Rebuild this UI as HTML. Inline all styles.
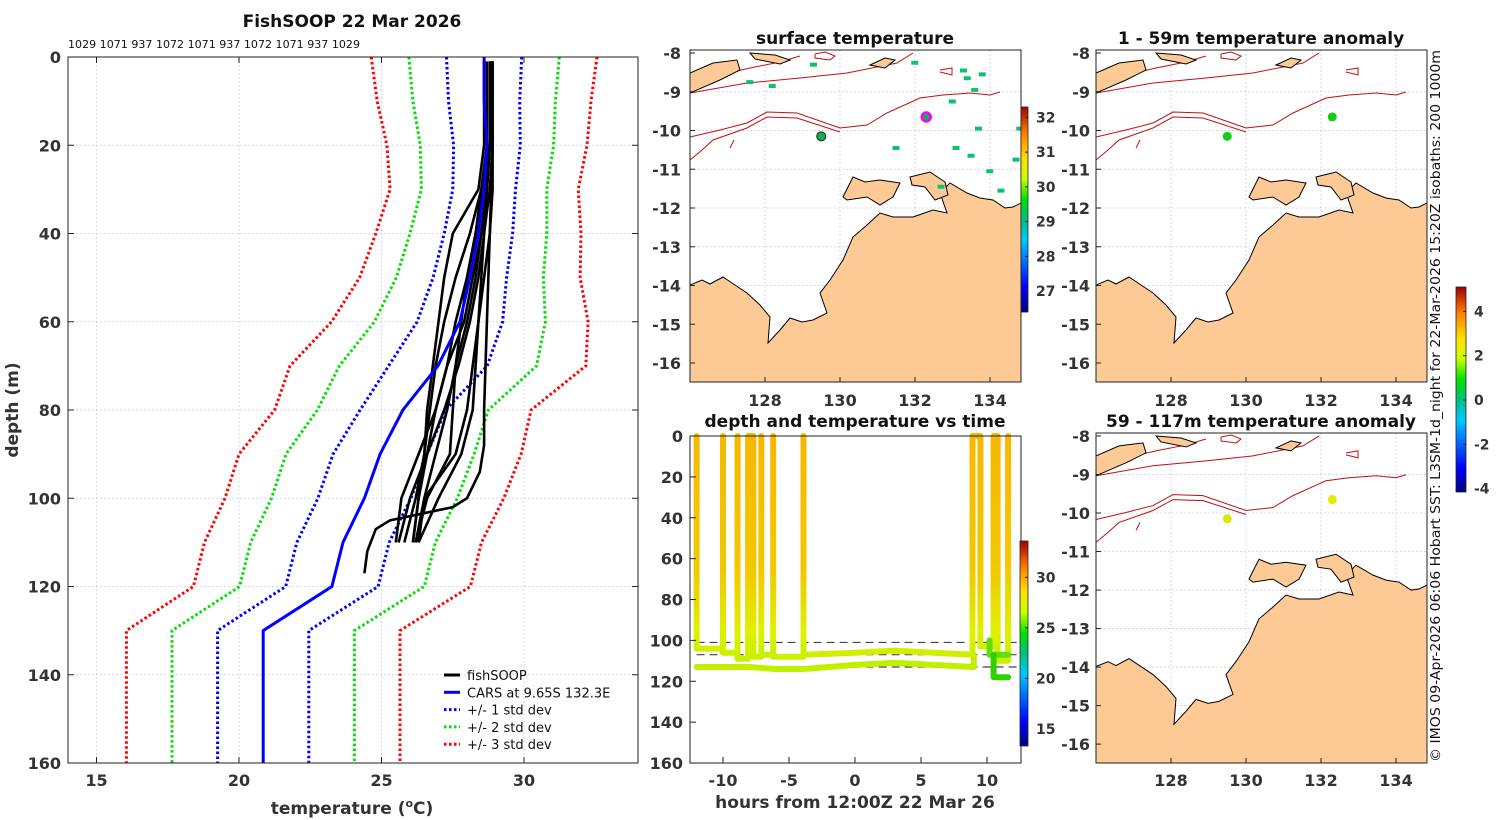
<!DOCTYPE html>
<html><head><meta charset="utf-8"><style>
html,body{margin:0;padding:0;background:#fff;}
svg{display:block;font-family:"DejaVu Sans","Liberation Sans",sans-serif;}
.b{font-weight:bold;}
</style></head><body>
<svg id="fig" width="1500" height="820" viewBox="0 0 1500 820" xmlns="http://www.w3.org/2000/svg">
<defs>
<linearGradient id="jet" x1="0" y1="1" x2="0" y2="0">
<stop offset="0" stop-color="#000080"/><stop offset="0.12" stop-color="#0000ff"/><stop offset="0.35" stop-color="#00c8ff"/><stop offset="0.45" stop-color="#00c080"/><stop offset="0.55" stop-color="#00e000"/><stop offset="0.65" stop-color="#c8ff00"/><stop offset="0.75" stop-color="#ffe000"/><stop offset="0.87" stop-color="#ff8000"/><stop offset="1" stop-color="#a00000"/>
</linearGradient>
<linearGradient id="diveg" gradientUnits="userSpaceOnUse" x1="0" y1="436" x2="0" y2="680">
<stop offset="0" stop-color="#f7b800"/><stop offset="0.55" stop-color="#f2c800"/><stop offset="0.8" stop-color="#dff000"/><stop offset="1" stop-color="#b8f000"/>
</linearGradient>
<symbol id="mapbase" viewBox="0 0 331 332" preserveAspectRatio="none">
<g stroke="#c8cce8" stroke-width="0.8" stroke-dasharray="2,2">
<line x1="75" y1="0" x2="75" y2="332"/><line x1="150" y1="0" x2="150" y2="332"/><line x1="225" y1="0" x2="225" y2="332"/><line x1="300" y1="0" x2="300" y2="332"/>
<line x1="0" y1="41.75" x2="331" y2="41.75"/><line x1="0" y1="80.5" x2="331" y2="80.5"/><line x1="0" y1="119.25" x2="331" y2="119.25"/><line x1="0" y1="158" x2="331" y2="158"/><line x1="0" y1="196.75" x2="331" y2="196.75"/><line x1="0" y1="235.5" x2="331" y2="235.5"/><line x1="0" y1="274.25" x2="331" y2="274.25"/><line x1="0" y1="313" x2="331" y2="313"/>
</g>
<g fill="none" stroke="#c01010" stroke-width="1">
<polyline points="0,87 30,80 57,73 77,62 107,63 150,78 177,75 197,63 230,48 253,45 280,43 300,45 310,42"/>
<polyline points="0,110 12,100 23,90 40,84 57,78 77,67 107,68 150,82"/>
<polyline points="0,43 57,33 110,28 157,23 207,13 223,3"/>
<polyline points="0,34 30,25 60,18 90,12 110,6"/>
<polyline points="125,4 135,2 145,6 140,10 125,8 125,4"/>
<polyline points="250,20 262,18 262,25 250,22"/>
<polyline points="44,90 40,98"/>
</g>
<g fill="#fdca95" stroke="#000" stroke-width="1">
<polygon points="0,235 12,230 20,234 33,227 45,235 57,243 70,255 80,267 78,293 90,280 100,268 112,272 123,270 137,263 130,243 140,230 153,210 163,187 177,175 190,163 203,167 223,167 243,160 257,163 250,143 260,133 277,143 290,148 303,150 315,158 323,157 331,153 331,332 0,332"/>
<polygon points="153,147 163,127 175,132 190,130 210,133 203,147 190,155 177,147 157,150"/>
<polygon points="220,127 240,122 255,132 258,145 245,150 235,137 222,135"/>
<polygon points="0,23 23,13 47,10 50,20 30,30 0,43"/>
<polygon points="60,3 85,5 100,10 90,14 65,9"/>
<polygon points="180,15 195,8 205,10 195,18"/>
</g>
</symbol>
</defs>
<g id="left"></g>
<g id="tdpanel"></g>
<g id="maps"></g>
</svg>
<script>
// ---------- profile data ----------
const carsDepths = [0,10,20,30,40,50,60,70,80,90,100,110,120,130,160];
const carsMean   = [28.6,28.6,28.7,28.6,28.4,28.1,27.75,26.98,25.75,24.95,24.4,23.65,23.26,20.85,20.85];
const carsStd    = [1.32,1.25,1.17,1.1,1.2,1.29,1.5,1.73,1.5,1.65,1.63,1.62,1.62,1.6,1.6];
const profDepths = [1,20,30,40,50,60,70,80,90,100,110];
const prof1 = [28.8,28.8,28.7,28.5,28.3,28.0,27.6,27.3,26.9,26.5,26.2];
const prof2 = [28.9,28.9,28.9,28.8,28.6,28.4,28.3,28.2,27.8,27.0,26.3];
const prof3 = [28.6,28.6,28.4,27.5,27.2,27.0,26.8,26.6,26.5,26.3,26.1];
const prof4 = [28.9,28.9,28.8,28.6,28.4,28.1,27.7,27.2,26.6,26.0,25.6];
const prof5 = [28.9,28.8,28.6,28.3,28.0,27.6,27.3,26.9,26.3,25.7,25.5];
const prof6 = [28.8,28.8,28.7,28.5,28.2,27.9,27.3,26.9,26.6,26.3,26.1];
const prof8 = [28.7,28.7,28.5,28.3,28.0,27.8,27.6,27.5,27.4,26.6,26.2];
const prof9 = [28.9,28.8,28.5,28.1,27.6,27.2,26.9,26.7,26.5,26.2,25.8];
const prof10 = [28.8,28.8,28.7,28.6,28.5,28.4,28.2,28.0,27.6,26.5,26.3];
const prof7Depths = [1,20,40,60,80,88,94,100,102,105,107,112,117];
const prof7 = [28.9,28.9,28.8,28.7,28.6,28.6,28.45,28.0,27.5,25.3,24.8,24.5,24.4];
const tempTicks = [15,20,25,30];
const depthTicks = [0,20,40,60,80,100,120,140,160];
const topNumbers = "1029 1071 937 1072 1071 937 1072 1071 937 1029";

// ---------- depth-time data ----------
const diveTimes  = [-12,-12,-10,-10,-10,-8.9,-8.9,-8.9,-8.1,-8.1,-7.7,-7.7,-7.1,-7.1,-7.1,-6.2,-6.2,-6.2,-3.9,-3.9,-3.9,0,3,6,8.9,8.9,9.5,9.5,10.5,10.5,10.8,10.8,11.6,11.6];
const diveDepths = [0,104,104,0,106,106,0,109,109,0,0,108,108,0,107,107,0,108,108,0,107,106,105,106,107,0,0,103,103,0,0,110,110,0];
const bottomTimes  = [-12,-8,-6,-3.9,0,3,6,9,9];
const bottomDepths = [113,113,114,114,112,111,112,113,107];
const greenTimes  = [10.2,10.2,11.6];
const greenDepths = [100,107,107];
const green2Times = [10.5,10.5,11.6];
const green2Depths= [107,118,118];
const dashDepths = [101,107,113];
const hourTicks = [-10,-5,0,5,10];

// ---------- map data ----------
const lonTicks = [128,130,132,134];
const latTicks = [-8,-9,-10,-11,-12,-13,-14,-15,-16];
const sstTicks = [27,28,29,30,31,32];
const tdTicks = [15,20,25,30];
const anomTicks = [-4,-2,0,2,4];
const ptLon = [129.5,132.3];
const ptLat = [-10.15,-9.65];

const NS="http://www.w3.org/2000/svg";
function el(tag,attrs,parent,text){const e=document.createElementNS(NS,tag);for(const k in attrs)e.setAttribute(k,attrs[k]);if(text!==undefined)e.textContent=text;parent.appendChild(e);return e;}

// ===== left profile panel =====
const L=document.getElementById('left');
const px=t=>68+(t-14)*28.5, py=d=>57+d*4.4125;
for(const t of tempTicks){const g=el('line',{x1:px(t),y1:57,x2:px(t),y2:763,stroke:'#d0cce0','stroke-width':0.8,'stroke-dasharray':'2,2'},L);
}
for(const d of depthTicks){const g=el('line',{x1:68,y1:py(d),x2:638,y2:py(d),stroke:'#d0cce0','stroke-width':0.8,'stroke-dasharray':'2,2'},L);
}
const stdCols=['#0000ff','#00e000','#ff0000'];
[3,2,1].forEach(k=>{[-1,1].forEach(s=>{
 const pts=carsDepths.map((d,i)=>px(carsMean[i]+s*k*carsStd[i]).toFixed(1)+','+py(d).toFixed(1)).join(' ');
 const p=el('polyline',{points:pts,fill:'none',stroke:stdCols[k-1],'stroke-width':3,'stroke-dasharray':'2.5,2.5'},L);
 });});
const profs=[prof1,prof2,prof3,prof4,prof5,prof6,prof8,prof9,prof10];
profs.forEach(pr=>{const pts=pr.map((t,i)=>px(t).toFixed(1)+','+py(profDepths[i]).toFixed(1)).join(' ');
 const p=el('polyline',{points:pts,fill:'none',stroke:'#000','stroke-width':2.6,'stroke-linejoin':'round'},L);
 });
{const pts=prof7.map((t,i)=>px(t).toFixed(1)+','+py(prof7Depths[i]).toFixed(1)).join(' ');
 const p=el('polyline',{points:pts,fill:'none',stroke:'#000','stroke-width':2.6},L);
 }
{const pts=carsDepths.map((d,i)=>px(carsMean[i]).toFixed(1)+','+py(d).toFixed(1)).join(' ');
 const p=el('polyline',{points:pts,fill:'none',stroke:'#0000ff','stroke-width':3},L);
 }
{const r=el('rect',{x:68,y:57,width:570,height:706,fill:'none',stroke:'#222','stroke-width':1},L);
 }
for(const t of tempTicks){el('line',{x1:px(t),y1:763,x2:px(t),y2:757,stroke:'#222'},L);el('line',{x1:px(t),y1:57,x2:px(t),y2:63,stroke:'#222'},L);
 const tx=el('text',{x:px(t),y:786,'text-anchor':'middle','font-size':16,class:'b',fill:'#333'},L,String(t));
 }
for(const d of depthTicks){el('line',{x1:68,y1:py(d),x2:74,y2:py(d),stroke:'#222'},L);el('line',{x1:638,y1:py(d),x2:632,y2:py(d),stroke:'#222'},L);
 const tx=el('text',{x:61,y:py(d)+6,'text-anchor':'end','font-size':16,class:'b',fill:'#333'},L,String(d));
 }
{const t=el('text',{x:352,y:27,'text-anchor':'middle','font-size':17,class:'b',fill:'#111'},L,'FishSOOP 22 Mar 2026');}
{const t=el('text',{x:68,y:48,'font-size':10.5,fill:'#111',textLength:292,lengthAdjust:'spacingAndGlyphs'},L,topNumbers);}
{const t=el('text',{x:352,y:814,'text-anchor':'middle','font-size':17,class:'b',fill:'#333'},L);
 t.innerHTML='temperature (<tspan dy="-7" font-size="11">o</tspan><tspan dy="7">C)</tspan>';}
{const t=el('text',{x:18,y:410,'text-anchor':'middle','font-size':17,class:'b',fill:'#333',transform:'rotate(-90 18 410)'},L,'depth (m)');}
const legItems=[['fishSOOP','#000',''],['CARS at 9.65S 132.3E','#0000ff',''],['+/- 1 std dev','#0000ff','2.5,2.5'],['+/- 2 std dev','#00e000','2.5,2.5'],['+/- 3 std dev','#ff0000','2.5,2.5']];
legItems.forEach((it,i)=>{const y=675+i*17.3;
 const g=el('g',{},L);
 const a={x1:444,y1:y,x2:460,y2:y,stroke:it[1],'stroke-width':3};if(it[2])a['stroke-dasharray']=it[2];el('line',a,g);
 el('text',{x:467,y:y+5,'font-size':13,fill:'#111'},g,it[0]);});

// ===== depth-time panel =====
const T=document.getElementById('tdpanel');
const hx=h=>855+h*13.2, dy=d=>436+d*2.044;
for(const d of dashDepths){const l=el('line',{x1:hx(-12),y1:dy(d),x2:hx(12.4),y2:dy(d),stroke:'#444','stroke-width':1.2,'stroke-dasharray':'8,5'},T);
 }
function tdLine(ts,ds,stroke,name){const pts=ts.map((t,i)=>hx(t).toFixed(1)+','+dy(ds[i]).toFixed(1)).join(' ');
 const p=el('polyline',{points:pts,fill:'none',stroke:stroke,'stroke-width':6,'stroke-linejoin':'round','stroke-linecap':'round'},T);
 }
tdLine(bottomTimes,bottomDepths,'#c0f000','bottom-track');
tdLine(diveTimes,diveDepths,'url(#diveg)','dive-track');
tdLine(greenTimes,greenDepths,'#60e000','dive-track-green');
tdLine(green2Times,green2Depths,'#30d000','dive-track-green');
{const r=el('rect',{x:690,y:436,width:331,height:327,fill:'none',stroke:'#222'},T);}
for(const h of hourTicks){el('line',{x1:hx(h),y1:763,x2:hx(h),y2:757,stroke:'#222'},T);
 const t=el('text',{x:hx(h),y:786,'text-anchor':'middle','font-size':16,class:'b',fill:'#333'},T,String(h));}
for(const d of depthTicks){el('line',{x1:690,y1:dy(d),x2:696,y2:dy(d),stroke:'#222'},T);
 const t=el('text',{x:683,y:dy(d)+6,'text-anchor':'end','font-size':16,class:'b',fill:'#333'},T,String(d));}
{const t=el('text',{x:855,y:427,'text-anchor':'middle','font-size':17,class:'b',fill:'#111'},T,'depth and temperature vs time');}
{const t=el('text',{x:855,y:808,'text-anchor':'middle','font-size':17,class:'b',fill:'#333'},T,'hours from 12:00Z 22 Mar 26');}
function colorbar(parent,x,y0,y1,w,ticks,tmin,tmax,name){
 const g=el('g',{},parent);
 el('rect',{x:x,y:y0,width:w,height:y1-y0,fill:'url(#jet)',stroke:'#222','stroke-width':0.8},g);
 for(const v of ticks){const y=y1-(v-tmin)/(tmax-tmin)*(y1-y0);el('line',{x1:x+w-3,y1:y,x2:x+w,y2:y,stroke:'#222'},g);
  const t=el('text',{x:x+w+8,y:y+5,'font-size':14,class:'b',fill:'#333'},g,String(v));}
}
colorbar(T,1020,541,746,8,tdTicks,13.3,33.6,'depth-time-colorbar');

// ===== maps =====
const M=document.getElementById('maps');
const panels=[{x:690,y:50,h:332,title:'surface temperature',ty:44,lx:681,lonY:406,name:'surface-temp-map',col:['#10b050','#10b050'],ring:true},
 {x:1096,y:50,h:332,title:'1 - 59m temperature anomaly',ty:44,lx:1090,lonY:406,name:'anomaly-1-59m-map',col:['#10d010','#10d010'],ring:false},
 {x:1096,y:433,h:330,title:'59 - 117m temperature anomaly',ty:427,lx:1090,lonY:786,name:'anomaly-59-117m-map',col:['#d8e800','#e8e800'],ring:false}];
panels.forEach((P,pi)=>{
 const g=el('g',{},M);
 const sy=P.h/332;
 const lonX=lon=>P.x+(lon-126)*37.5, latY=lat=>P.y+(3+(-8-lat)*38.75)*sy;
 el('use',{href:'#mapbase',x:P.x,y:P.y,width:331,height:P.h},g);
 if(pi===0){const specks=[[129.2,-8.25],[131.9,-8.2],[133.2,-8.4],[133.5,-8.9],[133.3,-8.6],[133.7,-8.5],[133.6,-9.9],[133.0,-10.4],[133.4,-10.6],[133.9,-11.0],[134.6,-10.7],[132.6,-11.4],[134.2,-11.5],[134.7,-9.9],[131.4,-10.4],[132.9,-9.2],[128.1,-8.8],[127.5,-8.7]];
  specks.forEach(s=>{const r=el('rect',{x:lonX(s[0]),y:latY(s[1]),width:7,height:4,fill:'#10c070'},g);});}
 ptLon.forEach((lo,i)=>{const c=el('circle',{cx:lonX(lo),cy:latY(ptLat[i]),r:4.5,fill:P.col[i],stroke:(P.ring&&i===1)?'#ff00ff':(pi===0?'#222':'none'),'stroke-width':(P.ring&&i===1)?2.5:1},g);
  });
 el('rect',{x:P.x,y:P.y,width:331,height:P.h,fill:'none',stroke:'#222'},g);
 for(const lo of lonTicks){el('line',{x1:lonX(lo),y1:P.y+P.h,x2:lonX(lo),y2:P.y+P.h-5,stroke:'#222'},g);
  const t=el('text',{x:lonX(lo),y:P.lonY,'text-anchor':'middle','font-size':16,class:'b',fill:'#333'},g,String(lo));}
 for(const la of latTicks){el('line',{x1:P.x,y1:latY(la),x2:P.x+5,y2:latY(la),stroke:'#222'},g);
  const t=el('text',{x:P.lx,y:latY(la)+6,'text-anchor':'end','font-size':16,class:'b',fill:'#333'},g,String(la));}
 const t=el('text',{x:P.x+165,y:P.ty,'text-anchor':'middle','font-size':17,class:'b',fill:'#111'},g,P.title);
});
colorbar(M,1021,107,312,7,sstTicks,26.4,32.3,'sst-colorbar');
colorbar(M,1456,287,492,10,anomTicks,-4.15,5.1,'anomaly-colorbar');
{const t=el('text',{x:1440,y:762,'font-size':13.5,fill:'#111',transform:'rotate(-90 1440 762)',textLength:712,lengthAdjust:'spacingAndGlyphs'},M,'© IMOS 09-Apr-2026 06:06 Hobart SST: L3SM-1d_night for 22-Mar-2026 15:20Z isobaths: 200  1000m');
 }
</script>
</body></html>
